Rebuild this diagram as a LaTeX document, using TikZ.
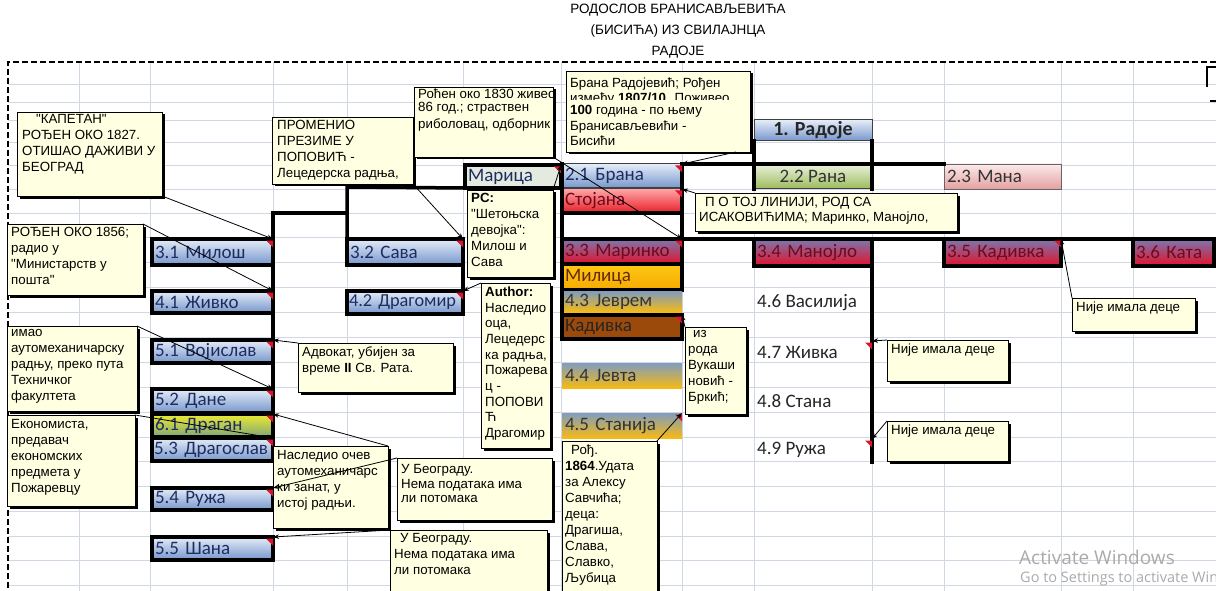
\documentclass[tikz,border=0pt]{standalone}
\usepackage{fontspec}
\setmainfont{Carlito}
\newfontfamily\cmtfont{Liberation Sans}
\newfontfamily\wmfont{Open Sans}
\usetikzlibrary{arrows.meta,shadows,calc}

\definecolor{gridc}{RGB}{210,215,228}
\definecolor{cmtbg}{RGB}{255,255,225}
\definecolor{btop}{RGB}{228,236,248}
\definecolor{bbot}{RGB}{118,150,204}
\definecolor{btext}{RGB}{30,45,95}
\definecolor{gtop}{RGB}{235,241,222}
\definecolor{gbot}{RGB}{155,187,89}
\definecolor{ptop}{RGB}{252,234,234}
\definecolor{pbot}{RGB}{228,160,160}
\definecolor{rtop}{RGB}{255,165,165}
\definecolor{rbot}{RGB}{232,30,40}
\definecolor{mtop}{RGB}{122,120,176}
\definecolor{mbot}{RGB}{228,16,42}
\definecolor{mtext}{RGB}{110,10,30}
\definecolor{otop}{RGB}{255,200,20}
\definecolor{obot}{RGB}{245,170,0}
\definecolor{otext}{RGB}{100,40,10}
\definecolor{ytop}{RGB}{128,156,190}
\definecolor{ybot}{RGB}{246,186,20}
\definecolor{kbrown}{RGB}{156,74,12}
\definecolor{dtop}{RGB}{236,236,50}
\definecolor{dbot}{RGB}{130,165,120}
\definecolor{marc}{RGB}{228,234,224}
\definecolor{mkc}{RGB}{220,20,50}
\definecolor{wmc}{RGB}{170,170,170}

\newcommand\redmark[1]{\fill[mkc] ([shift={(-7,1.5)}]#1) -- ++(7,0) -- ++(0,7) -- cycle;}

\tikzset{
  gridline/.style={draw=gridc, line width=0.9pt},
  titletext/.style={font=\cmtfont\fontsize{13.5}{13.5}\selectfont, inner sep=0pt},
  cellbase/.style={anchor=north west, outer sep=0pt, inner xsep=3pt, inner ysep=0pt,
    font=\fontsize{19}{19}\selectfont, align=left},
  thickb/.style={draw=black, line width=3.5pt},
  thinb/.style={draw=black!75, line width=1pt},
  bluec/.style={top color=btop, bottom color=bbot, text=btext},
  greenc/.style={top color=gtop, bottom color=gbot, text=black!80},
  pinkc/.style={top color=ptop, bottom color=pbot, text=black!80},
  redc/.style={top color=rtop, bottom color=rbot, text=mtext},
  purc/.style={top color=mtop, bottom color=mbot, text=mtext},
  orc/.style={top color=otop, bottom color=obot, text=otext},
  yelc/.style={top color=ytop, bottom color=ybot, text=black!80},
  drc/.style={top color=dtop, bottom color=dbot, text=btext},
  tree/.style={line width=3.5pt, line cap=rect},
  conn/.style={line width=0.8pt, -{Stealth[length=6pt,width=4.5pt]}},
  cbox/.style={anchor=north west, draw=black, line width=0.8pt, fill=cmtbg, inner sep=0pt,
    outer sep=0pt, drop shadow={shadow xshift=2.5pt, shadow yshift=-2.5pt, fill=black, opacity=1}},
  ctext/.style={anchor=north west, inner sep=0pt, yshift=-1.5pt, align=left, font=\cmtfont\fontsize{13.3}{16}\selectfont},
  plain/.style={anchor=west, inner sep=0pt, font=\fontsize{19}{19}\selectfont, text=black!85},
}

\begin{document}
\begin{tikzpicture}[x=1pt,y=-1pt]
\useasboundingbox (0,0) rectangle (1216,591);
\fill[white] (0,0) rectangle (1216,591);

% grid
\foreach \x in {79,150,273,347,463,561,682,754,872,944,1061,1133}
  \draw[gridline] (\x,62) -- (\x,591);
\foreach \y in {84,102,120,142,165,189,213,237,262,287,312,337,362,387,412,437,461,486,511,536,560,585}
  \draw[gridline] (8,\y) -- (1216,\y);
\draw[line width=1.2pt, dash pattern=on 6pt off 3pt] (1216,62) -- (8,62) -- (8,591);

% title
\node[titletext] (t1) at (678,10) {РОДОСЛОВ БРАНИСАВЉЕВИЋА};
\node[titletext] (t2) at (678,31) {(БИСИЋА) ИЗ СВИЛАЈНЦА};
\node[titletext] (t3) at (678,52) {РАДОЈЕ};

% top-right fragment
\draw[line width=2.5pt] (1216,67) -- (1207,67) -- (1207,87);
\draw[line width=2pt] (1210,101) -- (1216,101);

% left column cells
\node[cellbase,thickb,bluec,minimum width=121pt,text width=115pt,minimum height=26pt] (milos) at (152,239) {3.1 Милош};
\node[cellbase,thickb,bluec,minimum width=121pt,text width=115pt,minimum height=22pt] (zivko) at (152,291) {4.1 Живко};
\node[cellbase,thickb,bluec,minimum width=121pt,text width=115pt,minimum height=23pt] (vojislav) at (152,340) {5.1 Војислав};
\node[cellbase,thickb,bluec,minimum width=121pt,text width=115pt,minimum height=24pt] (dane) at (152,389) {5.2 Дане};
\node[cellbase,thickb,drc,minimum width=121pt,text width=115pt,minimum height=23pt] (dragan) at (152,414) {6.1 Драган};
\node[cellbase,thickb,bluec,minimum width=121pt,text width=117pt,inner xsep=2pt,minimum height=23pt] (dragoslav) at (152,438) {5.3 Драгослав};
\node[cellbase,thickb,bluec,minimum width=121pt,text width=115pt,minimum height=22pt] (ruza5) at (152,488) {5.4 Ружа};
\node[cellbase,thickb,bluec,minimum width=121pt,text width=115pt,minimum height=23pt] (sana) at (152,537) {5.5 Шана};

\node[cellbase,thickb,bluec,minimum width=116pt,text width=110pt,minimum height=26pt] (sava) at (347,239) {3.2 Сава};
\node[cellbase,thickb,bluec,minimum width=116pt,text width=112pt,inner xsep=2pt,minimum height=23pt,font=\fontsize{18.3}{18.3}\selectfont] (dragomir) at (347,291) {4.2 Драгомир};
\node[cellbase,thickb,fill=marc,text=btext,minimum width=96pt,text width=90pt,minimum height=23pt] (marica) at (465,165) {Марица};

% Brana column
\node[cellbase,thinb,bluec,minimum width=120pt,text width=114pt,minimum height=24pt] (brana) at (562,164) {2.1 Брана};
\node[cellbase,thinb,redc,minimum width=120pt,text width=114pt,minimum height=24pt] (stojana) at (562,189) {Стојана};
\node[cellbase,thickb,purc,minimum width=120pt,text width=114pt,minimum height=25pt] (marinko) at (562,239) {3.3 Маринко};
\node[cellbase,thickb,orc,minimum width=120pt,text width=114pt,minimum height=26pt] (milica) at (562,264) {Милица};
\node[cellbase,yelc,minimum width=120pt,text width=114pt,minimum height=21pt] (jevrem) at (562,291) {4.3 Јеврем};
\node[cellbase,thickb,fill=kbrown,text=black!85,minimum width=120pt,text width=114pt,minimum height=24pt] (kadivka) at (562,315) {Кадивка};
\node[cellbase,yelc,minimum width=120pt,text width=114pt,minimum height=25pt] (jevta) at (562,363) {4.4 Јевта};
\node[cellbase,yelc,minimum width=120pt,text width=114pt,minimum height=25pt] (stanija) at (562,413) {4.5 Станија};

% right part
\node[cellbase,thinb,bluec,text=black!85,align=center,minimum width=118pt,minimum height=21pt,font=\bfseries\fontsize{20}{20}\selectfont] (radoje) at (754,120) {1. Радоје};
\node[cellbase,thinb,greenc,align=center,minimum width=118pt,minimum height=25pt] (rana) at (754,164) {2.2 Рана};
\node[cellbase,draw=black!60,line width=0.8pt,pinkc,minimum width=117pt,text width=111pt,minimum height=25pt] (mana) at (944,164) {2.3 Мана};
\node[cellbase,thickb,purc,minimum width=118pt,text width=112pt,minimum height=27pt] (manojlo) at (754,239) {3.4 Манојло};
\node[cellbase,thickb,purc,minimum width=117pt,text width=111pt,minimum height=27pt] (kad35) at (944,239) {3.5 Кадивка};
\node[cellbase,thickb,purc,minimum width=81pt,text width=75pt,minimum height=27pt] (kata) at (1133,239) {3.6 Ката};

\node[plain] (vasilija) at (757,303) {4.6 Василија};
\node[plain] (zivka) at (757,352) {4.7 Живка};
\node[plain] (stana) at (757,401) {4.8 Стана};
\node[plain] (ruza9) at (757,450) {4.9 Ружа};
\coordinate (zv47) at (872,341);
\coordinate (rz49) at (872,439);
\coordinate (end49) at (872,462);

% tree lines
\coordinate (j1) at (273,213);
\coordinate (j2) at (347,213);
\coordinate (j3) at (347,187);
\draw[tree] (dragoslav.south east) -- (j1) -- (j2);
\draw[tree] (sava.north west) -- (j3) -- (marica.south west);
\draw[tree] (sava.south east) -- (dragomir.north east);
\draw[tree] (brana.north west) -- (kadivka.south west);
\draw[tree] (stojana.south west) -- (stojana.south east);
\draw[tree] (brana.north east) -- (marinko.south east);
\draw[tree] (brana.north east) -- (mana.north west);
\draw[tree] (radoje.south west) -- (rana.south west);
\draw[tree] (radoje.south east) -- (rana.south east);
\draw[tree] (marinko.north east) -- (kata.north east);
\draw[tree] (manojlo.north east) -- (end49);

% comment indicators
\redmark{milos.north east}
\redmark{zivko.north east}
\redmark{vojislav.north east}
\redmark{dane.north east}
\redmark{dragan.north east}
\redmark{dragoslav.north east}
\redmark{ruza5.north east}
\redmark{sana.north east}
\redmark{sava.north east}
\redmark{dragomir.north east}
\redmark{marica.north east}
\redmark{brana.north east}
\redmark{stojana.north east}
\redmark{marinko.north east}
\redmark{kadivka.north east}
\redmark{stanija.north east}
\redmark{kad35.north east}
\redmark{zv47}
\redmark{rz49}

% comment boxes
\node[cbox,minimum width=145pt,minimum height=84pt] (kap) at (17,112) {};
\node[ctext] (kapt) at (22,113) {\hspace*{14pt}"КАПЕТАН"\\РОЂЕН ОКО 1827.\\ОТИШАО ДАЖИВИ У\\БЕОГРАД};

\node[cbox,minimum width=141pt,minimum height=67pt] (promenio) at (272,117) {};
\node[ctext] (promt) at (277,119) {ПРОМЕНИО\\ПРЕЗИМЕ У\\ПОПОВИЋ -\\Лецедерска радња,};

\node[cbox,minimum width=139pt,minimum height=70pt] (r1830) at (414,87) {};
\begin{scope}
  \clip (415,88) rectangle (552,97.5);
  \node[ctext] (r1830a) at (418,87.5) {Рођен око 1830 живео};
\end{scope}
\node[ctext,font=\cmtfont\fontsize{13.3}{17}\selectfont] (r1830b) at (418,101) {86 год.; страствен\\риболовац, одборник};

\node[cbox,minimum width=184pt,minimum height=81pt] (bcom) at (566,71) {};
\node[ctext] (bcom1) at (570,76) {Брана Радојевић; Рођен};
\begin{scope}
  \clip (567,90) rectangle (749,99.5);
  \node[ctext] (bcom2) at (570,91) {између \textbf{1807/10}. Поживео};
\end{scope}
\node[ctext,font=\cmtfont\fontsize{13.3}{15.5}\selectfont] (bcom3) at (570,104) {\textbf{100} година - по њему\\Бранисављевићи -\\Бисићи};

\node[cbox,minimum width=86pt,minimum height=87pt] (pc) at (467,190) {};
\node[ctext] (pct) at (471,192) {\textbf{PC:}\\"Шетоњска\\девојка":\\Милош и\\Сава};

\node[cbox,minimum width=262pt,minimum height=38pt] (potoj) at (695,193) {};
\node[ctext,font=\cmtfont\fontsize{13.3}{15}\selectfont] (potojt) at (699,196) {\hspace*{6pt}П О ТОЈ ЛИНИЈИ, РОД СА\\ИСАКОВИЋИМА; Маринко, Манојло,};

\node[cbox,minimum width=136pt,minimum height=71pt] (r1856) at (7,224) {};
\node[ctext] (r1856t) at (11,226) {РОЂЕН ОКО 1856;\\радио у\\"Министарств у\\пошта"};

\node[cbox,minimum width=130pt,minimum height=85pt] (imao) at (7,326) {};
\node[ctext] (imaot) at (11,328) {имао\\аутомеханичарску\\радњу, преко пута\\Техничког\\факултета};

\node[cbox,minimum width=128pt,minimum height=91pt] (ekon) at (7,415) {};
\node[ctext] (ekont) at (11,418) {Економиста,\\предавач\\економских\\предмета у\\Пожаревцу};

\node[cbox,minimum width=155pt,minimum height=49pt] (advokat) at (298,343) {};
\node[ctext] (advt) at (302,345) {Адвокат, убијен за\\време \textbf{II} Св. Рата.};

\node[cbox,minimum width=69pt,minimum height=165pt] (author) at (481,283) {};
\node[ctext,font=\cmtfont\fontsize{13.3}{15.7}\selectfont] (autht) at (485,285) {\textbf{Author:}\\Наследио\\оца,\\Лецедерс\\ка радња,\\Пожарева\\ц -\\ПОПОВИ\\Ћ\\Драгомир};

\node[cbox,minimum width=61pt,minimum height=87pt] (izroda) at (685,327) {};
\node[ctext] (izrodat) at (688,329) {\hspace*{5pt}из\\рода\\Вукаши\\новић -\\Бркић;};

\node[cbox,minimum width=123pt,minimum height=33pt] (nije1) at (1072,298) {};
\node[ctext] (nije1t) at (1076,300) {Није имала деце};
\node[cbox,minimum width=121pt,minimum height=41pt] (nije2) at (887,340) {};
\node[ctext] (nije2t) at (891,342) {Није имала деце};
\node[cbox,minimum width=121pt,minimum height=40pt] (nije3) at (887,421) {};
\node[ctext] (nije3t) at (891,423) {Није имала деце};

\node[cbox,minimum width=115pt,minimum height=82pt] (nasledio) at (273,446) {};
\node[ctext] (nasledt) at (277,449) {Наследио очев\\аутомеханичарс\\ки занат, у\\истој радњи.};

\node[cbox,minimum width=155pt,minimum height=62pt] (ubg1) at (397,458) {};
\node[ctext,font=\cmtfont\fontsize{13.3}{14.5}\selectfont] (ubg1t) at (401,463) {У Београду.\\Нема података има\\ли потомака};

\node[cbox,minimum width=157pt,minimum height=75pt] (ubg2) at (390,530) {};
\node[ctext] (ubg2t) at (394,532) {\hspace*{6pt}У Београду.\\Нема података има\\ли потомака};

\node[cbox,minimum width=95pt,minimum height=165pt] (r1864) at (562,441) {};
\node[ctext,font=\cmtfont\fontsize{13.3}{16}\selectfont] (r1864t) at (565,443) {\hspace*{6pt}Рођ.\\\textbf{1864}.Удата\\за Алексу\\Савчића;\\деца:\\Драгиша,\\Слава,\\Славко,\\Љубица};

% connectors
\draw[conn] (kap.south east) -- (milos.north east);
\draw[conn] (r1856.north east) -- (zivko.north east);
\draw[conn] (imao.north east) -- (dane.north east);
\draw[conn] (ekon.north east) -- (dragoslav.north east);
\draw[conn] (advokat.north west) -- (vojislav.north east);
\draw[conn] (nasledio.north east) -- (dragan.north east);
\draw[conn] (ubg1.north west) -- (ruza5.north east);
\draw[conn] (ubg2.north west) -- (sana.north east);
\draw[conn] (promenio.south east) -- (sava.north east);
\draw[conn] (r1830.south east) -- (marinko.north east);
\draw[conn] ($(bcom.south east)+(-14,0)$) -- (brana.north east);
\draw[conn] (potoj.north west) -- (stojana.north east);
\draw[conn] (pc.north east) -- (marica.north east);
\draw[conn] (author.north west) -- (dragomir.north east);
\draw[conn] (izroda.north west) -- (kadivka.north east);
\draw[conn] (r1864.north east) -- (stanija.north east);
\draw[conn] (nije1.north west) -- (kad35.north east);
\draw[conn] (nije2.north west) -- (zv47);
\draw[conn] (nije3.north west) -- (rz49);

% watermark
\node[anchor=west, inner sep=0pt, text=wmc, font=\wmfont\fontsize{19}{19}\selectfont] (wm1) at (1019,557) {Activate Windows};
\node[anchor=west, inner sep=0pt, text=wmc, font=\wmfont\fontsize{14.5}{14.5}\selectfont] (wm2) at (1020,579) {Go to Settings to activate Windows.};
\end{tikzpicture}
\end{document}
